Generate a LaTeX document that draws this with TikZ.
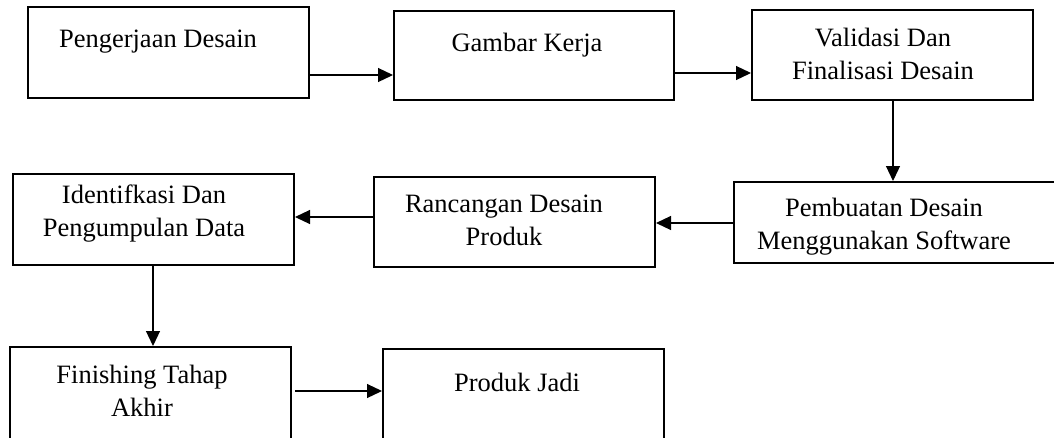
\documentclass[tikz,border=0pt]{standalone}
\usepackage{fontspec}
\setmainfont{Liberation Serif}
\usetikzlibrary{arrows.meta}
\begin{document}
\begin{tikzpicture}[x=1pt,y=-1pt,
  box/.style={draw=black,line width=2pt,fill=none},
  lbl/.style={font=\fontsize{26.5}{33}\selectfont,align=center,inner sep=0pt},
  arr/.style={line width=1.2pt,-{Triangle[length=15pt,width=14pt]}}]
\useasboundingbox (0,0) rectangle (1054,437);
\clip (0,0) rectangle (1054,437);
% boxes
\draw[box] (28,7) rectangle (309,98) node[midway,inner sep=0pt,minimum width=281pt,minimum height=91pt] (b1) {};
\draw[box] (394,11) rectangle (674,100) node[midway,inner sep=0pt,minimum width=280pt,minimum height=89pt] (b2) {};
\draw[box] (752,10) rectangle (1033,100) node[midway,inner sep=0pt,minimum width=281pt,minimum height=90pt] (b3) {};
\draw[box] (734,182) rectangle (1062,263) node[midway,inner sep=0pt,minimum width=328pt,minimum height=81pt] (b4) {};
\draw[box] (374,177) rectangle (655,267) node[midway,inner sep=0pt,minimum width=281pt,minimum height=90pt] (b5) {};
\draw[box] (13,174) rectangle (294,265) node[midway,inner sep=0pt,minimum width=281pt,minimum height=91pt] (b6) {};
\draw[box] (10,347) rectangle (291,442) node[midway,inner sep=0pt,minimum width=281pt,minimum height=95pt] (b7) {};
\draw[box] (383,349) rectangle (664,442) node[midway,inner sep=0pt,minimum width=281pt,minimum height=93pt] (b8) {};
% labels
\node[lbl] (t1) at (158,42) {Pengerjaan Desain};
\node[lbl] (t2) at (527,45) {Gambar Kerja};
\node[lbl] (t3) at (883,54) {Validasi Dan\\Finalisasi Desain};
\node[lbl] (t4) at (884,227) {Pembuatan Desain\\Menggunakan Software};
\node[lbl] (t5) at (504,220) {Rancangan Desain\\Produk};
\node[lbl] (t6) at (144,214) {Identifkasi Dan\\Pengumpulan Data};
\node[lbl] (t7) at (142,391) {Finishing Tahap\\Akhir};
\node[lbl] (t8) at (517,382) {Produk Jadi};
% connectors
\coordinate (c7) at (295,391);
\draw[arr] (b1.east |- 0,75) -- (b2.west |- 0,75);
\draw[arr] (b2.east |- 0,73) -- (b3.west |- 0,73);
\draw[arr] (b3.south -| 893,0) -- (b4.north -| 893,0);
\draw[arr] (b4.west |- 0,223) -- (b5.east |- 0,223);
\draw[arr] (b5.west |- 0,217) -- (b6.east |- 0,217);
\draw[arr] (b6.south -| 153,0) -- (b7.north -| 153,0);
\draw[arr] (c7) -- (b8.west |- c7);
\end{tikzpicture}
\end{document}
